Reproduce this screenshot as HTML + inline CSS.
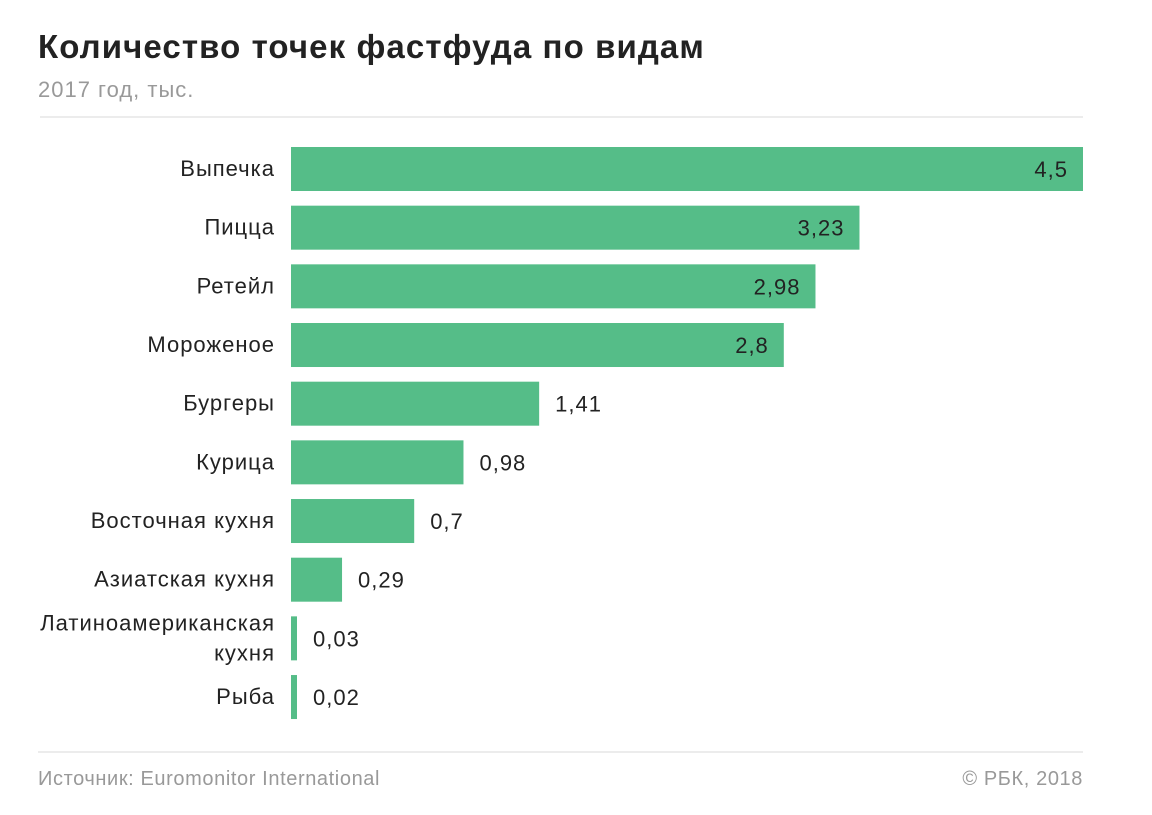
<!DOCTYPE html>
<html><head><meta charset="utf-8"><style>
body{margin:0;background:#fff;width:1152px;height:810px;overflow:hidden;font-family:"Liberation Sans","DejaVu Sans",sans-serif;}
</style></head><body>
<svg width="1152" height="810" id="c">
<text x="38" y="58" font-size="33" letter-spacing="1.1" font-weight="bold" fill="#222">Количество точек фастфуда по видам</text>
<text x="38" y="97" font-size="22" letter-spacing="1" fill="#999">2017 год, тыс.</text>
<line x1="40" y1="117" x2="1083" y2="117" stroke="#e6e6e6" stroke-width="1.5"/>
<line x1="38" y1="752" x2="1083" y2="752" stroke="#e6e6e6" stroke-width="1.5"/>
<text x="38" y="785" font-size="20" letter-spacing="0.6" fill="#999">Источник: Euromonitor International</text>
<text x="1083" y="785" font-size="20" letter-spacing="0.6" fill="#999" text-anchor="end">© РБК, 2018</text>
<g id="bars"></g>
</svg>
<script>
const categories=[["Выпечка"],["Пицца"],["Ретейл"],["Мороженое"],["Бургеры"],["Курица"],["Восточная кухня"],["Азиатская кухня"],["Латиноамериканская","кухня"],["Рыба"]];
const values=[4.5,3.23,2.98,2.8,1.41,0.98,0.7,0.29,0.03,0.02];
const valueLabels=["4,5","3,23","2,98","2,8","1,41","0,98","0,7","0,29","0,03","0,02"];
const x0=291,xMax=1083,vMax=4.5,y0=169,step=58.67,bh=44;
const xs=v=>x0+(xMax-x0)*v/vMax;
const ys=i=>y0+step*i;
const g=document.getElementById('bars');
const NS='http://www.w3.org/2000/svg';
values.forEach((v,i)=>{
  const cy=ys(i);
  const r=document.createElementNS(NS,'rect');
  
  
  r.setAttribute('x',x0);r.setAttribute('y',cy-bh/2);
  r.setAttribute('width',Math.max(xs(v)-x0,6));r.setAttribute('height',bh);
  r.setAttribute('fill','#55bd88');g.appendChild(r);
  const lines=categories[i];
  const t=document.createElementNS(NS,'text');
  
  
  t.setAttribute('x',275);t.setAttribute('text-anchor','end');
  t.setAttribute('font-size','22');t.setAttribute('letter-spacing','1');t.setAttribute('fill','#222');
  lines.forEach((s,k)=>{const sp=document.createElementNS(NS,'tspan');sp.setAttribute('x',275);
    sp.setAttribute('y',cy+7+(k-(lines.length-1)/2)*30);sp.textContent=s;t.appendChild(sp);});
  g.appendChild(t);
  const vt=document.createElementNS(NS,'text');
  
  
  const inside=v>=2;
  const bx=Math.max(xs(v),x0+6);
  vt.setAttribute('x',inside?bx-15:bx+16);
  vt.setAttribute('text-anchor',inside?'end':'start');
  vt.setAttribute('y',cy+8);vt.setAttribute('font-size','22');vt.setAttribute('letter-spacing','1');vt.setAttribute('fill','#222');
  vt.textContent=valueLabels[i];g.appendChild(vt);
});
</script>
</body></html>
